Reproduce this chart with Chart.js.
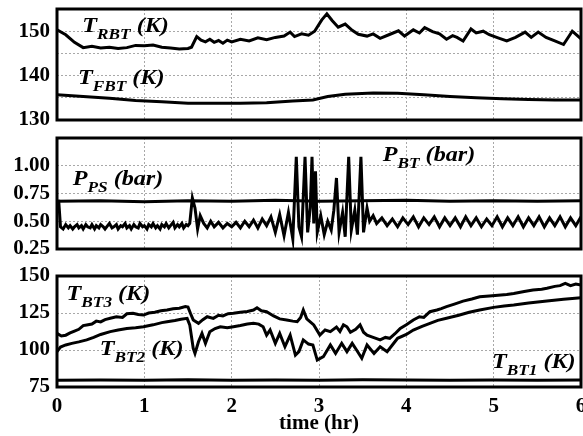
<!DOCTYPE html>
<html>
<head>
<script src="https://cdn.jsdelivr.net/npm/chart.js@4.4.1/dist/chart.umd.min.js"></script>
<style>
body{margin:0;background:#fff;}
#wrap{position:relative;width:583px;height:436px;overflow:hidden;}
canvas{position:absolute;left:0;}
</style>
</head>
<body>
<div id="wrap">
<canvas id="c1" width="583" height="130" style="top:0px"></canvas>
<canvas id="c2" width="583" height="130" style="top:128px"></canvas>
<canvas id="c3" width="583" height="174" style="top:262px"></canvas>
</div>
<script>

// x axis (hours)
var hours=[0,1,2,3,4,5,6];

// top panel: T_RBT and T_FBT (K)
var yTicks1=[130,140,150];
var tRBT=[0,0.1,0.2,0.3,0.4,0.5,0.6,0.7,0.8,0.9,1.0,1.1,1.2,1.3,1.4,1.5,1.54,1.6,1.65,1.7,1.75,1.8,1.85,1.9,1.95,2.0,2.1,2.2,2.3,2.4,2.5,2.6,2.67,2.72,2.8,2.88,2.95,3.03,3.09,3.15,3.22,3.3,3.38,3.45,3.55,3.62,3.7,3.8,3.91,3.98,4.08,4.15,4.21,4.3,4.38,4.46,4.53,4.58,4.65,4.74,4.8,4.88,4.95,5.05,5.15,5.25,5.36,5.43,5.51,5.6,5.7,5.8,5.9,6.0];
var vRBT=[150.3,149.2,147.5,146.3,146.6,146.2,146.4,146.1,146.3,146.8,146.7,146.9,146.4,146.2,146.0,146.1,146.4,148.8,148.0,147.6,148.2,147.5,147.9,147.3,148.0,147.6,148.2,147.8,148.5,148.1,148.6,148.9,149.8,148.8,149.4,149.1,150.0,152.5,153.9,152.4,150.9,151.6,150.2,149.3,148.9,149.4,148.4,149.2,150.1,148.9,150.3,149.6,150.8,149.9,149.4,148.2,149.0,148.6,147.8,150.5,149.6,150.0,149.2,148.5,147.8,148.6,149.8,148.6,149.8,148.6,147.8,147.0,150.0,148.3];
var tFBT=[0,0.3,0.6,0.9,1.2,1.5,1.8,2.1,2.4,2.7,2.93,3.1,3.3,3.62,3.9,4.2,4.5,4.8,5.1,5.4,5.7,6.0];
var vFBT=[135.7,135.3,134.9,134.4,134.1,133.8,133.8,133.8,133.9,134.3,134.5,135.3,135.8,136.1,136.0,135.7,135.3,135.0,134.8,134.6,134.5,134.5];

// middle panel: P_PS and P_BT (bar)
var yTicks2=[0.25,0.5,0.75,1.0];
var tPS=[0,0.5,1,1.5,2,2.5,3,3.5,4,4.5,5,5.5,6];
var vPS=[0.68,0.685,0.675,0.685,0.68,0.69,0.68,0.685,0.69,0.68,0.685,0.68,0.685];
var tBT=[0,0.02,0.04,0.07,0.1,0.13,0.15,0.18,0.2,0.23,0.25,0.28,0.3,0.33,0.35,0.38,0.4,0.43,0.45,0.48,0.5,0.53,0.55,0.58,0.6,0.63,0.65,0.68,0.7,0.73,0.75,0.78,0.8,0.83,0.85,0.88,0.9,0.93,0.95,0.98,1.0,1.03,1.05,1.08,1.1,1.13,1.15,1.18,1.2,1.23,1.25,1.28,1.3,1.33,1.35,1.38,1.4,1.43,1.45,1.48,1.5,1.52,1.55,1.58,1.61,1.64,1.68,1.72,1.76,1.8,1.85,1.9,1.95,2.0,2.05,2.1,2.15,2.2,2.25,2.3,2.35,2.4,2.45,2.5,2.55,2.6,2.65,2.7,2.74,2.77,2.8,2.84,2.87,2.9,2.92,2.94,2.96,2.98,3.02,3.06,3.1,3.14,3.17,3.2,3.23,3.27,3.3,3.34,3.37,3.41,3.44,3.48,3.51,3.55,3.58,3.62,3.66,3.72,3.78,3.84,3.9,3.96,4.02,4.08,4.14,4.2,4.26,4.32,4.38,4.44,4.5,4.56,4.62,4.68,4.74,4.8,4.86,4.92,4.98,5.04,5.1,5.16,5.22,5.28,5.34,5.4,5.46,5.52,5.58,5.64,5.7,5.76,5.82,5.88,5.94,6.0];
var vBT=[0.68,0.68,0.45,0.43,0.47,0.44,0.46,0.43,0.45,0.47,0.44,0.46,0.43,0.47,0.45,0.44,0.47,0.43,0.46,0.44,0.47,0.45,0.43,0.46,0.48,0.44,0.45,0.47,0.43,0.46,0.45,0.48,0.44,0.46,0.43,0.47,0.45,0.44,0.48,0.45,0.46,0.43,0.47,0.45,0.48,0.44,0.46,0.43,0.47,0.45,0.48,0.44,0.46,0.49,0.44,0.47,0.45,0.48,0.44,0.47,0.46,0.48,0.71,0.62,0.43,0.55,0.48,0.44,0.50,0.45,0.49,0.44,0.48,0.45,0.49,0.44,0.50,0.45,0.51,0.44,0.52,0.46,0.54,0.40,0.56,0.37,0.58,0.34,1.08,0.45,0.36,1.08,0.40,0.62,1.08,0.48,0.95,0.40,0.55,0.38,0.50,0.42,0.60,0.89,0.40,0.58,0.36,1.08,0.42,0.60,0.38,1.08,0.40,0.62,0.50,0.55,0.48,0.53,0.46,0.52,0.45,0.53,0.47,0.54,0.45,0.53,0.47,0.54,0.45,0.53,0.46,0.53,0.45,0.54,0.46,0.53,0.45,0.52,0.46,0.54,0.45,0.53,0.46,0.54,0.45,0.53,0.46,0.54,0.45,0.53,0.46,0.54,0.45,0.53,0.46,0.54,0.45,0.52];

// bottom panel: T_BT1, T_BT2, T_BT3 (K)
var yTicks3=[75,100,125,150];
var tBT3=[0,0.05,0.1,0.15,0.2,0.25,0.3,0.34,0.4,0.45,0.5,0.55,0.61,0.68,0.75,0.8,0.87,0.93,0.99,1.05,1.12,1.19,1.26,1.33,1.4,1.47,1.5,1.53,1.56,1.62,1.67,1.72,1.79,1.85,1.9,1.96,2.02,2.1,2.18,2.25,2.29,2.34,2.4,2.48,2.55,2.63,2.7,2.75,2.79,2.82,2.86,2.94,3.01,3.07,3.13,3.2,3.24,3.28,3.32,3.36,3.42,3.47,3.51,3.55,3.62,3.7,3.76,3.81,3.87,3.93,4.0,4.08,4.15,4.2,4.27,4.35,4.4,4.46,4.55,4.65,4.75,4.84,4.95,5.05,5.15,5.23,5.35,5.45,5.55,5.61,5.7,5.76,5.82,5.88,5.94,6.0];
var vBT3=[111.2,109.5,110.0,111.5,112.8,114.0,116.5,116.9,117.5,119.5,119.0,120.5,121.4,122.5,122.0,124.5,124.8,124.0,123.6,125.0,125.5,126.5,127.0,127.8,128.2,129.3,129.0,124.5,120.3,118.0,120.5,122.5,121.4,123.5,123.0,124.5,124.8,125.5,126.0,127.0,128.5,126.5,125.9,123.0,121.0,120.3,119.5,119.1,122.0,127.0,121.0,116.9,110.1,113.5,112.4,115.5,112.5,117.0,115.7,112.0,114.0,117.0,112.0,110.0,108.5,106.8,108.5,107.9,111.0,114.6,117.0,120.3,122.5,122.0,125.9,127.0,128.0,129.3,131.0,133.0,134.5,136.0,136.5,137.0,137.5,138.2,139.5,140.5,141.0,141.7,143.0,143.5,145.0,143.5,144.5,143.9];
var tBT2=[0,0.04,0.1,0.17,0.25,0.34,0.42,0.5,0.61,0.7,0.8,0.9,0.99,1.1,1.2,1.26,1.35,1.42,1.49,1.52,1.56,1.58,1.62,1.66,1.7,1.75,1.81,1.87,1.95,2.02,2.1,2.18,2.25,2.31,2.36,2.4,2.44,2.5,2.55,2.61,2.67,2.73,2.77,2.82,2.88,2.93,2.98,3.05,3.13,3.19,3.26,3.32,3.38,3.43,3.49,3.55,3.63,3.7,3.78,3.84,3.9,4.0,4.08,4.18,4.27,4.36,4.46,4.6,4.72,4.84,5.0,5.12,5.23,5.4,5.61,5.8,6.0];
var vBT2=[98.9,102.0,103.4,104.5,105.5,106.8,108.5,110.5,112.4,113.5,114.5,115.0,115.7,117.0,118.5,119.1,120.0,120.8,121.4,117.0,101.1,97.7,105.6,111.2,104.5,112.4,114.5,115.7,115.0,115.7,116.5,117.5,118.0,117.5,115.7,110.1,113.5,104.5,111.2,102.2,110.0,96.6,98.9,106.8,104.0,103.4,93.2,95.5,103.4,97.7,104.5,98.9,104.5,100.0,94.4,103.4,97.7,102.2,98.9,103.4,107.9,110.5,113.5,116.0,118.0,120.0,121.4,123.5,125.5,127.0,128.8,129.8,130.4,131.8,133.1,134.3,135.3];
var tBT1=[0,0.5,1,1.5,2,2.5,3,3.5,4,4.5,5,5.5,6];
var vBT1=[79.5,79.8,79.6,79.9,79.5,79.8,79.6,79.9,79.7,79.5,79.8,79.6,79.7];

var font='Liberation Serif';

function pts(t,v){
	return t.map(function(x,i){return {x:x,y:v[i]};});
}

var frame={
	id:'frame',
	afterDraw:function(c){
		var a=c.chartArea,ctx=c.ctx;
		ctx.save();
		ctx.lineWidth=3;
		ctx.strokeStyle='#000';
		ctx.strokeRect(a.left,a.top,a.right-a.left,a.bottom-a.top);
		ctx.restore();
	}
};

// italic series names with subscripts
function notes(list){
	return {
		id:'notes',
		afterDatasetsDraw:function(c){
			var ctx=c.ctx;
			list.forEach(function(n){
				var px=c.scales.x.getPixelForValue(n.t);
				var py=c.scales.y.getPixelForValue(n.v);
				ctx.save();
				ctx.fillStyle='#000';
				ctx.textBaseline='alphabetic';
				ctx.translate(px,py);
				ctx.scale(1.15,1);
				ctx.font='italic bold 21px "'+font+'"';
				ctx.fillText(n.main,0,0);
				var w=ctx.measureText(n.main).width;
				ctx.font='italic bold 15px "'+font+'"';
				ctx.fillText(n.sub,w,7);
				w+=ctx.measureText(n.sub).width;
				ctx.font='italic bold 21px "'+font+'"';
				ctx.fillText(n.unit,w,0);
				ctx.restore();
			});
		}
	};
}

function makeChart(id,o){
	return new Chart(document.getElementById(id),{
		type:'line',
		data:{
			datasets:o.sets.map(function(s){
				return {data:s,borderColor:'#000',borderWidth:3,pointRadius:0,tension:0,fill:false};
			})
		},
		options:{
			responsive:false,
			animation:false,
			layout:{padding:{top:o.top,bottom:o.bottom,left:0,right:2}},
			plugins:{legend:{display:false},tooltip:{enabled:false}},
			scales:{
				x:{
					type:'linear',min:0,max:6,
					afterBuildTicks:function(s){s.ticks=hours.map(function(v){return {value:v};});},
					grid:{color:'#a8a8a8',lineWidth:1,drawTicks:false},
					border:{display:false,dash:[2,2]},
					ticks:{display:o.showX,padding:7,color:'#000',autoSkip:false,maxRotation:0,font:{family:font,size:21,weight:'bold'}},
					title:{display:o.showX,text:'time (hr)',color:'#000',padding:{top:0,bottom:0},font:{family:font,size:21,weight:'bold'}},
					afterFit:function(s){s.height=o.xh;s.paddingLeft=0;s.paddingRight=0;}
				},
				y:{
					min:o.min,max:o.max,
					grid:{color:'#a8a8a8',lineWidth:1,drawTicks:false},
					border:{display:false,dash:[2,2]},
					ticks:{
						stepSize:o.step,padding:7,color:'#000',autoSkip:false,
						font:{family:font,size:21,weight:'bold'},
						callback:function(v){
							for(var i=0;i<o.labels.length;i++){
								if(Math.abs(o.labels[i]-v)<1e-6) return o.fmt(v);
							}
							return '';
						}
					},
					afterFit:function(s){s.width=57;s.paddingTop=0;s.paddingBottom=0;}
				}
			}
		},
		plugins:[frame,notes(o.notes)]
	});
}

makeChart('c1',{
	sets:[pts(tRBT,vRBT),pts(tFBT,vFBT)],
	min:130,max:155,step:5,labels:yTicks1,fmt:function(v){return String(v);},
	top:9,bottom:10,xh:0,showX:false,
	notes:[{main:'T',sub:'RBT',unit:' (K)',t:0.29,v:149.8},{main:'T',sub:'FBT',unit:' (K)',t:0.24,v:138}]
});

makeChart('c2',{
	sets:[pts(tPS,vPS),pts(tBT,vBT)],
	min:0.25,max:1.25,step:0.25,labels:yTicks2,fmt:function(v){return v.toFixed(2);},
	top:10,bottom:9,xh:0,showX:false,
	notes:[{main:'P',sub:'PS',unit:' (bar)',t:0.18,v:0.83},{main:'P',sub:'BT',unit:' (bar)',t:3.73,v:1.04}]
});

makeChart('c3',{
	sets:[pts(tBT3,vBT3),pts(tBT2,vBT2),pts(tBT1,vBT1)],
	min:75,max:150,step:25,labels:yTicks3,fmt:function(v){return String(v);},
	top:14,bottom:0,xh:49,showX:true,
	notes:[{main:'T',sub:'BT3',unit:' (K)',t:0.11,v:133.8},{main:'T',sub:'BT2',unit:' (K)',t:0.49,v:96.6},{main:'T',sub:'BT1',unit:' (K)',t:4.98,v:87.8}]
});
</script>
</body>
</html>
